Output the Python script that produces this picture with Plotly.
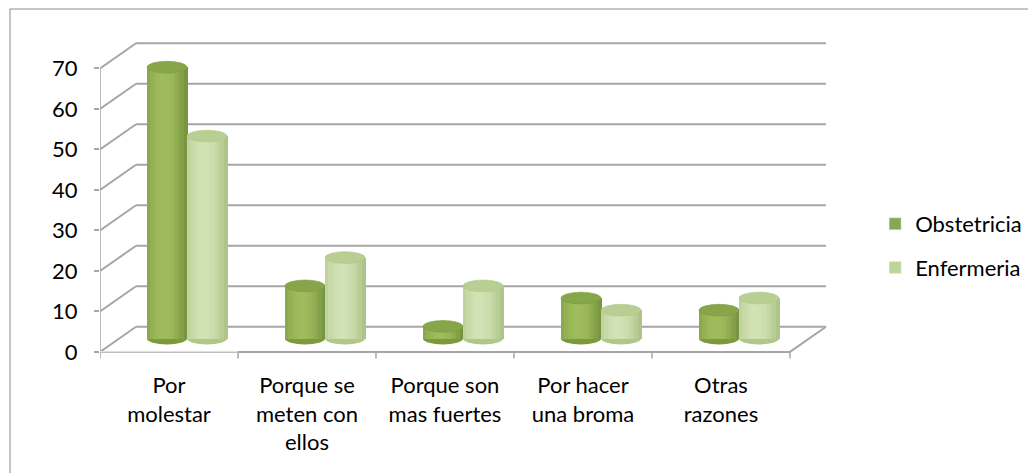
import plotly.graph_objects as go

# ---- data ----
categories = ["Por<br>molestar", "Porque se<br>meten con<br>ellos", "Porque son<br>mas fuertes",
              "Por hacer<br>una broma", "Otras<br>razones"]
series_names = ["Obstetricia", "Enfermeria"]
obstetricia = [67, 13, 3, 10, 7]
enfermeria = [50, 20, 13, 7, 10]
y_ticks = [0, 10, 20, 30, 40, 50, 60, 70]

# ---- style / geometry ----
FONT = "Lato"
GRID = "#A6A6A6"
depth_x, depth_y = 0.261, 6.2      # back wall offset in data units
mid_x, base = 0.1304, 3.3          # bars sit mid-depth
bar_w = 0.29
n_strips = 12
cap_h = 1.45

styles = {
    "Obstetricia": dict(dark=(108, 136, 54), light=(158, 188, 92), cap="#87A549", legend="#8BA650", bottom="#7A9A3C"),
    "Enfermeria": dict(dark=(162, 186, 124), light=(210, 226, 180), cap="#B8CE93", legend="#BED49A", bottom="#AFC787"),
}

def mix(c1, c2, t):
    return "rgb(%d,%d,%d)" % tuple(round(a + (b - a) * t) for a, b in zip(c1, c2))

x_pos = list(range(len(categories)))
fig = go.Figure()
shapes = []

x_front_l = -0.5
x_front_r = len(categories) - 0.5
for v in y_ticks:
    shapes.append(dict(type="line", xref="x", yref="y", layer="below",
                       x0=x_front_l + depth_x, x1=x_front_r + depth_x, y0=v + depth_y, y1=v + depth_y,
                       line=dict(color=GRID, width=2)))
    shapes.append(dict(type="line", xref="x", yref="y", layer="below",
                       x0=x_front_l, x1=x_front_l + depth_x, y0=v, y1=v + depth_y,
                       line=dict(color=GRID, width=2)))
shapes.append(dict(type="line", xref="x", yref="y", layer="below",
                   x0=x_front_l, x1=x_front_r, y0=0, y1=0, line=dict(color=GRID, width=2)))
shapes.append(dict(type="line", xref="x", yref="y", layer="below",
                   x0=x_front_r, x1=x_front_r + depth_x, y0=0, y1=depth_y, line=dict(color=GRID, width=2)))
shapes.append(dict(type="line", xref="x", yref="y", layer="below",
                   x0=x_front_l, x1=x_front_l, y0=0, y1=y_ticks[-1], line=dict(color=GRID, width=1.5)))
for i in range(len(categories) + 1):
    shapes.append(dict(type="line", xref="x", yref="y", layer="below",
                       x0=i - 0.5, x1=i - 0.5, y0=0, y1=-1.6, line=dict(color=GRID, width=1.5)))

for name, values, start in [("Obstetricia", obstetricia, mid_x - bar_w), ("Enfermeria", enfermeria, mid_x)]:
    st = styles[name]
    sw = bar_w / n_strips
    for k in range(n_strips):
        t = (k + 0.5) / n_strips
        b = max(0.0, 1 - ((t - 0.42) / 0.62) ** 2)
        fig.add_trace(go.Bar(
            x=x_pos, y=values, base=[base] * len(values),
            width=sw * 1.2, offset=start + k * sw,
            marker=dict(color=mix(st["dark"], st["light"], b), line=dict(width=0)),
            showlegend=False, hoverinfo="skip"))
    for xi, v in zip(x_pos, values):
        x0, x1 = xi + start, xi + start + bar_w
        shapes.append(dict(type="circle", xref="x", yref="y", layer="below",
                           x0=x0, x1=x1, y0=base - cap_h, y1=base + cap_h,
                           fillcolor=st["bottom"], line=dict(width=0)))
        shapes.append(dict(type="circle", xref="x", yref="y", layer="above",
                           x0=x0, x1=x1, y0=base + v - cap_h, y1=base + v + cap_h,
                           fillcolor=st["cap"], line=dict(width=0.6, color=st["bottom"])))
    fig.add_trace(go.Bar(x=[0], y=[0], name=name, marker=dict(color=st["legend"]),
                         legendgroup=name, showlegend=True, hoverinfo="skip"))

shapes.append(dict(type="rect", xref="paper", yref="paper", x0=-0.1233, x1=1.4, y0=-0.5, y1=1.0833,
                   line=dict(color="#8C8C8C", width=1), fillcolor="rgba(0,0,0,0)", layer="below"))

fig.update_layout(
    width=1036, height=473,
    margin=dict(l=92, r=214, t=28, b=121, autoexpand=False),
    paper_bgcolor="white", plot_bgcolor="white",
    barmode="overlay", bargap=0,
    shapes=shapes,
    font=dict(family=FONT, size=22, color="black"),
    xaxis=dict(range=[-0.5, 4.79], tickmode="array", tickvals=x_pos, ticktext=categories,
               showgrid=False, zeroline=False, showline=False, ticks="", automargin=False,
               tickfont=dict(family=FONT, size=22), ticklabelstandoff=10),
    yaxis=dict(range=[-2, 78], tickmode="array", tickvals=y_ticks, showgrid=False, zeroline=False,
               showline=False, ticks="outside", ticklen=5, tickcolor=GRID, tickwidth=1.5, automargin=False,
               tickfont=dict(family=FONT, size=22), ticklabelstandoff=12),
    legend=dict(xref="container", yref="container", x=0.837, y=1 - 195 / 473, yanchor="top",
                xanchor="left", font=dict(family=FONT, size=22), itemwidth=30,
                tracegroupgap=12, traceorder="grouped", bgcolor="rgba(0,0,0,0)"),
    showlegend=True,
)

fig.write_html("out.html")
